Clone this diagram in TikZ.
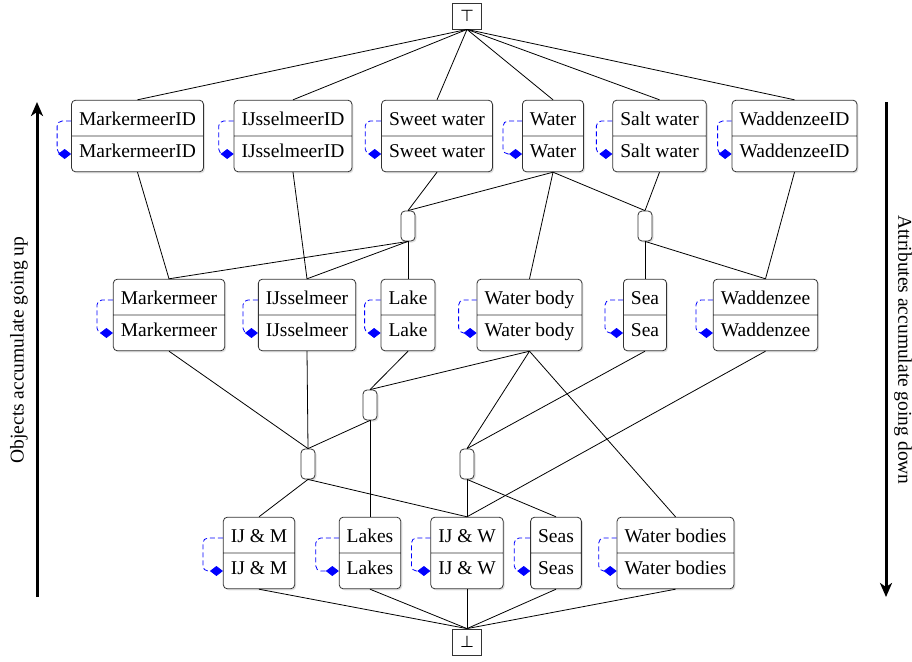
\documentclass[tikz,border=0pt]{standalone}
\usepackage{fontspec}
\setmainfont{Liberation Serif}
\newfontfamily\symfont{DejaVu Sans}
\usetikzlibrary{shapes.multipart,shadows,arrows.meta}
\newcommand\strA{\rule[-1.5pt]{0pt}{18pt}}
\newcommand\strB{\rule[-5.5pt]{0pt}{18pt}}
\newcommand\sloop[2][15]{\draw[selfloop] ([yshift=15pt]#2.west) -- ++(-#1,0) |- ([yshift=-18pt]#2.west);}
\newcommand\cb[1]{\strA\smash{#1}\nodepart{two}\strB\smash{#1}}
\tikzset{
  cbox/.style={rectangle split, rectangle split parts=2, draw=black!80, line width=0.8pt,
    rounded corners=4pt, fill=white, inner xsep=7.5pt, inner ysep=8.5pt,
    font=\fontsize{19.5}{23}\selectfont,
    drop shadow={opacity=0.25, shadow xshift=1.5pt, shadow yshift=-1.5pt}},
  jn/.style={rectangle, draw=black!80, line width=0.8pt, rounded corners=4pt, fill=white,
    minimum width=14pt, minimum height=30pt, inner sep=0pt,
    drop shadow={opacity=0.25, shadow xshift=1.5pt, shadow yshift=-1.5pt}},
  tb/.style={rectangle, draw=black!80, line width=0.8pt, fill=white,
    minimum width=29pt, minimum height=26pt, inner sep=0pt,
    font=\symfont\fontsize{16}{16}\selectfont},
  edge/.style={line width=0.8pt, black},
  selfloop/.style={blue, dash pattern=on 5pt off 3pt, line width=0.8pt, rounded corners=5pt,
    -{Diamond[length=13pt,width=10pt]}},
  bigarrow/.style={line width=3pt, -{Stealth[length=14pt,width=12pt,inset=4pt]}},
  side/.style={font=\fontsize{19.5}{23}\selectfont}
}
\begin{document}
\begin{tikzpicture}[x=1pt,y=-1pt]
\useasboundingbox (0,0) rectangle (912,661);
% top / bottom
\node[tb] (top) at (467,16) {⊤};
\node[tb] (bot) at (467,642) {⊥};
% row 1
\node[cbox] (mmid) at (137.5,136) {\cb{MarkermeerID}};
\node[cbox] (ijid) at (293,136) {\cb{IJsselmeerID}};
\node[cbox] (sw) at (437,136) {\cb{Sweet water}};
\node[cbox] (wat) at (553,136) {\cb{Water}};
\node[cbox] (salt) at (659.5,136) {\cb{Salt water}};
\node[cbox] (wzid) at (794.5,136) {\cb{WaddenzeeID}};
% junctions 1
\node[jn] (A) at (408,226) {};
\node[jn] (B) at (645,226) {};
% row 2
\node[cbox] (mm) at (169,315) {\cb{Markermeer}};
\node[cbox] (ij) at (307,315) {\cb{IJsselmeer}};
\node[cbox] (lake) at (408,315) {\cb{Lake}};
\node[cbox] (wb) at (529.5,315) {\cb{Water body}};
\node[cbox] (sea) at (645,315) {\cb{Sea}};
\node[cbox] (wz) at (765.5,315) {\cb{Waddenzee}};
% junctions 2
\node[jn] (C) at (370,405) {};
\node[jn] (D) at (308,464) {};
\node[jn] (E) at (467,464) {};
% row 3
\node[cbox] (ijm) at (259,553) {\cb{IJ \& M}};
\node[cbox] (lakes) at (370,553) {\cb{Lakes}};
\node[cbox] (ijw) at (467,553) {\cb{IJ \& W}};
\node[cbox] (seas) at (556,553) {\cb{Seas}};
\node[cbox] (wbs) at (675.5,553) {\cb{Water bodies}};
% edges
\foreach \n in {mmid,ijid,sw,wat,salt,wzid} \draw[edge] (top.south) -- (\n.north);
\draw[edge] (mmid.south) -- (mm.north);
\draw[edge] (ijid.south) -- (ij.north);
\draw[edge] (sw.south) -- (A.north);
\draw[edge] (wat.south) -- (A.north);
\draw[edge] (wat.south) -- (B.north);
\draw[edge] (wat.south) -- (wb.north);
\draw[edge] (salt.south) -- (B.north);
\draw[edge] (wzid.south) -- (wz.north);
\draw[edge] (A.south) -- (mm.north);
\draw[edge] (A.south) -- (ij.north);
\draw[edge] (A.south) -- (lake.north);
\draw[edge] (B.south) -- (sea.north);
\draw[edge] (B.south) -- (wz.north);
\draw[edge] (mm.south) -- (D.north);
\draw[edge] (ij.south) -- (D.north);
\draw[edge] (lake.south) -- (C.north);
\draw[edge] (wb.south) -- (C.north);
\draw[edge] (wb.south) -- (E.north);
\draw[edge] (wb.south) -- (wbs.north);
\draw[edge] (sea.south) -- (E.north);
\draw[edge] (wz.south) -- (ijw.north);
\draw[edge] (C.south) -- (D.north);
\draw[edge] (C.south) -- (lakes.north);
\draw[edge] (D.south) -- (ijm.north);
\draw[edge] (D.south) -- (ijw.north);
\draw[edge] (E.south) -- (ijw.north);
\draw[edge] (E.south) -- (seas.north);
\foreach \n in {ijm,lakes,ijw,seas,wbs} \draw[edge] (\n.south) -- (bot.north);
% self loops
\sloop[14]{mmid} \sloop[15]{ijid} \sloop[16]{sw} \sloop[19]{wat} \sloop[16]{salt} \sloop[14]{wzid}
\sloop[16]{mm} \sloop[15]{ij} \sloop[16]{lake} \sloop[18]{wb} \sloop[18]{sea} \sloop[17]{wz}
\sloop[20]{ijm} \sloop[23]{lakes} \sloop[19]{ijw} \sloop[16]{seas} \sloop[18]{wbs}
% side arrows
\coordinate (la1) at (37,597); \coordinate (la2) at (37,102);
\coordinate (ra1) at (886,102); \coordinate (ra2) at (886,597);
\draw[bigarrow] (la1) -- (la2);
\draw[bigarrow] (ra1) -- (ra2);
\node[side, rotate=90] (lt) at (19,350) {Objects accumulate going up};
\node[side, rotate=-90] (rt) at (903,350) {Attributes accumulate going down};
\end{tikzpicture}
\end{document}
